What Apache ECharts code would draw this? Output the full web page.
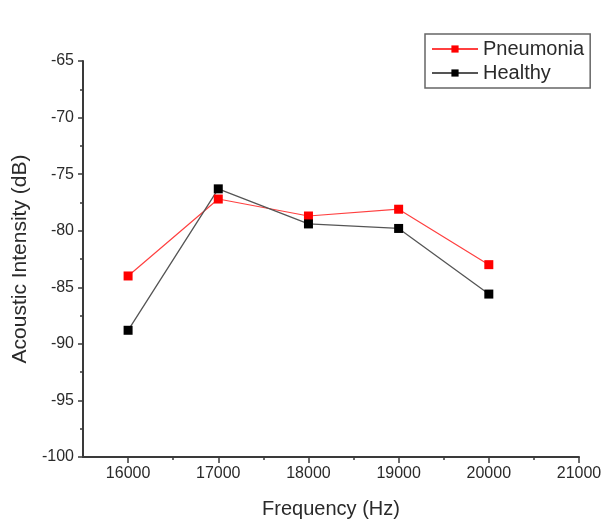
<!DOCTYPE html>
<html>
<head>
<meta charset="utf-8">
<script src="https://cdn.jsdelivr.net/npm/echarts@6/dist/echarts.min.js"></script>
<style>html,body{margin:0;padding:0;background:#fff}#c{width:606px;height:524px}</style>
</head>
<body>
<div id="c"></div>
<script>
const freq = [16000, 17000, 18000, 19000, 20000];
const pneumonia = [-84.0, -77.2, -78.7, -78.1, -83.0];
const healthy = [-88.8, -76.3, -79.4, -79.8, -85.6];
const xMajorTicks = [16000, 17000, 18000, 19000, 20000, 21000];
const xMinorTicks = [16500, 17500, 18500, 19500, 20500];

const FONT = 'Liberation Sans, Arial, sans-serif';
const AX = '#3a3a3a';
const TXT = '#2a2a2a';
const chart = echarts.init(document.getElementById('c'));
chart.setOption({
  animation: false,
  backgroundColor: '#fff',
  grid: {left: 83, right: 27, top: 61, bottom: 63, containLabel: false},
  legend: {
    data: ['Pneumonia', 'Healthy'],
    orient: 'vertical',
    left: 425, top: 34,
    padding: [5, 6],
    itemGap: 4,
    itemWidth: 46, itemHeight: 9,
    borderColor: '#666', borderWidth: 1.5,
    textStyle: {fontFamily: FONT, fontSize: 20, color: TXT}
  },
  xAxis: [{
    type: 'value', min: 15500, max: 21000,
    name: 'Frequency (Hz)', nameLocation: 'middle', nameGap: 42,
    nameTextStyle: {fontFamily: FONT, fontSize: 20, color: TXT},
    axisLine: {show: true, lineStyle: {color: AX, width: 2}},
    axisTick: {show: true, length: 6, customValues: xMajorTicks, lineStyle: {color: AX, width: 1.5}},
    axisLabel: {show: true, customValues: xMajorTicks, margin: 9, fontFamily: FONT, fontSize: 16, color: TXT,
      formatter: v => String(v)},
    splitLine: {show: false}
  }, {
    type: 'value', min: 15500, max: 21000, position: 'bottom',
    axisLine: {show: false},
    axisTick: {show: true, length: 3, customValues: xMinorTicks, lineStyle: {color: AX, width: 1.5}},
    axisLabel: {show: false},
    splitLine: {show: false}
  }],
  yAxis: {
    type: 'value', min: -100, max: -65, interval: 5,
    name: 'Acoustic Intensity (dB)', nameLocation: 'middle', nameGap: 50,
    nameTextStyle: {fontFamily: FONT, fontSize: 21, color: TXT},
    axisLine: {show: true, lineStyle: {color: AX, width: 2}},
    axisTick: {show: true, length: 5, lineStyle: {color: AX, width: 1.5}},
    minorTick: {show: true, splitNumber: 2, length: 3, lineStyle: {color: AX, width: 1.5}},
    axisLabel: {margin: 9, fontFamily: FONT, fontSize: 16, color: TXT},
    splitLine: {show: false}
  },
  series: [{
    name: 'Pneumonia', type: 'line', xAxisIndex: 0,
    data: freq.map((f, i) => [f, pneumonia[i]]),
    symbol: 'rect', symbolSize: 9,
    itemStyle: {color: '#ff0000'},
    lineStyle: {color: '#ff4040', width: 1.2}
  }, {
    name: 'Healthy', type: 'line', xAxisIndex: 0,
    data: freq.map((f, i) => [f, healthy[i]]),
    symbol: 'rect', symbolSize: 9,
    itemStyle: {color: '#000'},
    lineStyle: {color: '#555', width: 1.3}
  }]
});
</script>
</body>
</html>
